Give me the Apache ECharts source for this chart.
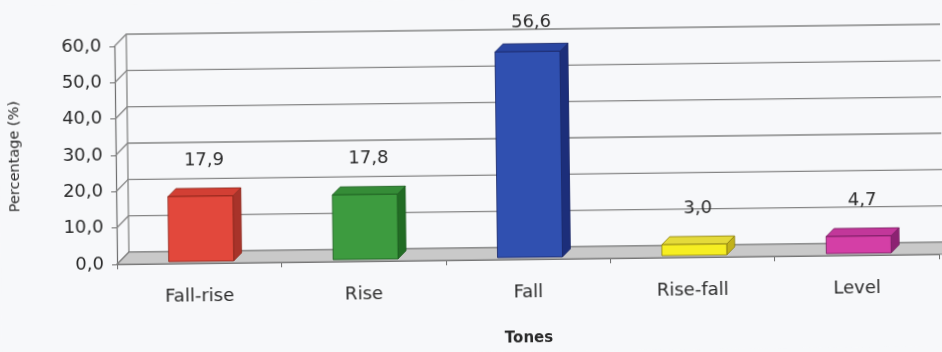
<!DOCTYPE html>
<html>
<head>
<meta charset="utf-8">
<script src="https://cdn.jsdelivr.net/npm/echarts@6/dist/echarts.min.js"></script>
<style>
  html, body { margin: 0; padding: 0; background: #f7f8fa; overflow: hidden; }
  #chart { position: absolute; left: 0; top: 0; width: 942px; height: 352px; transform: rotate(-0.7deg); }
</style>
</head>
<body>
<div id="chart"></div>
<script>
// data
var categories = ['Fall-rise', 'Rise', 'Fall', 'Rise-fall', 'Level'];
var percentages = [17.9, 17.8, 56.6, 3.0, 4.7];
var yTicks = [0, 10, 20, 30, 40, 50, 60];

// bar colours: face, top, side, edge
var palette = [
    ['#e2483c', '#d23f34', '#a8332a', '#8a2419'],
    ['#3d9b3f', '#358c37', '#226c24', '#1b5a1d'],
    ['#3050b0', '#2a46a2', '#1c2e7a', '#162566'],
    ['#f6ee22', '#e4da3a', '#c2b21a', '#8a7e10'],
    ['#d43fa6', '#c2379a', '#8c2272', '#741c5e']
];

var WALL_DX = 12, WALL_DY = 12;   // depth of the back wall
var BAR_DX = 8, BAR_DY = 8;       // depth of each bar
var fontFamily = 'DejaVu Sans';

function fmt(v) {
    return v.toFixed(1).replace('.', ',');
}

(function() {
    var myChart = echarts.init(document.getElementById('chart'));

    var option = {
        backgroundColor: '#f7f8fa',
        animation: false,
        grid: { left: 115, right: 4, top: 42, bottom: 86 },
        xAxis: {
            type: 'category',
            data: categories,
            axisLine: { show: true, lineStyle: { color: '#6e6e6e', width: 1.2 } },
            axisTick: { show: true, length: 5, lineStyle: { color: '#6e6e6e' } },
            axisLabel: { color: '#2a2a2a', fontFamily: fontFamily, fontSize: 18, margin: 24 },
            name: 'Tones',
            nameLocation: 'middle',
            nameGap: 72,
            nameTextStyle: { color: '#2a2a2a', fontFamily: fontFamily, fontSize: 15, fontWeight: 'bold' }
        },
        yAxis: {
            type: 'value',
            min: 0,
            max: 60,
            interval: 10,
            axisLine: { show: true, lineStyle: { color: '#6e6e6e', width: 1.2 } },
            axisTick: { show: true, length: 5, lineStyle: { color: '#6e6e6e' } },
            axisLabel: { color: '#2a2a2a', fontFamily: fontFamily, fontSize: 18, margin: 13, formatter: fmt },
            splitLine: { show: false },
            name: 'Percentage (%)',
            nameLocation: 'middle',
            nameRotate: 90,
            nameGap: 93,
            nameTextStyle: { color: '#2a2a2a', fontFamily: fontFamily, fontSize: 14.5 }
        },
        series: [
            {
                // left wall diagonals + back wall grid lines
                type: 'custom',
                silent: true,
                z: 1,
                data: yTicks.map(function(t) { return [0, t]; }),
                encode: { x: 0, y: 1 },
                renderItem: function(params, api) {
                    var cs = params.coordSys;
                    var y = api.coord([0, api.value(1)])[1];
                    var x0 = cs.x;
                    var children = [{
                        type: 'polyline',
                        shape: { points: [[x0, y], [x0 + WALL_DX, y - WALL_DY], [cs.x + cs.width + 60, y - WALL_DY]] },
                        style: { stroke: '#858585', lineWidth: 1.3, fill: null }
                    }];
                    if (params.dataIndex === 0) {
                        var yTop = api.coord([0, yTicks[yTicks.length - 1]])[1];
                        children.push({
                            type: 'line',
                            shape: { x1: x0 + WALL_DX, y1: y - WALL_DY, x2: x0 + WALL_DX, y2: yTop - WALL_DY },
                            style: { stroke: '#858585', lineWidth: 1.3 }
                        });
                    }
                    return { type: 'group', children: children };
                }
            },
            {
                // floor
                type: 'custom',
                silent: true,
                z: 2,
                data: [[0, 0]],
                encode: { x: 0, y: 1 },
                renderItem: function(params, api) {
                    var cs = params.coordSys;
                    var yb = api.coord([0, 0])[1];
                    var x0 = cs.x, xr = cs.x + cs.width + 60;
                    return {
                        type: 'polygon',
                        shape: { points: [[x0, yb], [xr, yb], [xr + WALL_DX, yb - WALL_DY], [x0 + WALL_DX, yb - WALL_DY]] },
                        style: { fill: '#c9c9c9', stroke: '#7e7e7e', lineWidth: 1.2 }
                    };
                }
            },
            {
                // 3D bars with value labels
                type: 'custom',
                z: 3,
                data: percentages.map(function(v, i) { return [i, v]; }),
                encode: { x: 0, y: 1 },
                renderItem: function(params, api) {
                    var i = api.value(0), v = api.value(1);
                    var c = palette[i];
                    var base = api.coord([i, 0]);
                    var top = api.coord([i, v]);
                    var w = api.size([1, 0])[0] * 0.395;
                    var cx = base[0] + 2;
                    var x0 = cx - w / 2, x1 = cx + w / 2;
                    var yb = base[1] - 2, yt = top[1] - 2;
                    var edge = { stroke: c[3], lineWidth: 0.8 };
                    return {
                        type: 'group',
                        children: [
                            {
                                type: 'polygon',
                                shape: { points: [[x1, yb], [x1 + BAR_DX, yb - BAR_DY], [x1 + BAR_DX, yt - BAR_DY], [x1, yt]] },
                                style: Object.assign({ fill: c[2] }, edge)
                            },
                            {
                                type: 'polygon',
                                shape: { points: [[x0, yt], [x1, yt], [x1 + BAR_DX, yt - BAR_DY], [x0 + BAR_DX, yt - BAR_DY]] },
                                style: Object.assign({ fill: c[1] }, edge)
                            },
                            {
                                type: 'rect',
                                shape: { x: x0, y: yt, width: w, height: yb - yt },
                                style: Object.assign({ fill: c[0] }, edge)
                            },
                            {
                                type: 'text',
                                style: {
                                    text: fmt(v),
                                    x: cx + 4,
                                    y: Math.max(yt - 36, 23),
                                    fill: '#2a2a2a',
                                    fontFamily: fontFamily,
                                    fontSize: 18,
                                    align: 'center',
                                    verticalAlign: 'middle'
                                }
                            }
                        ]
                    };
                }
            }
        ]
    };

    myChart.setOption(option);

    window.addEventListener('resize', function() {
        myChart.resize();
    });
})();
</script>
</body>
</html>
